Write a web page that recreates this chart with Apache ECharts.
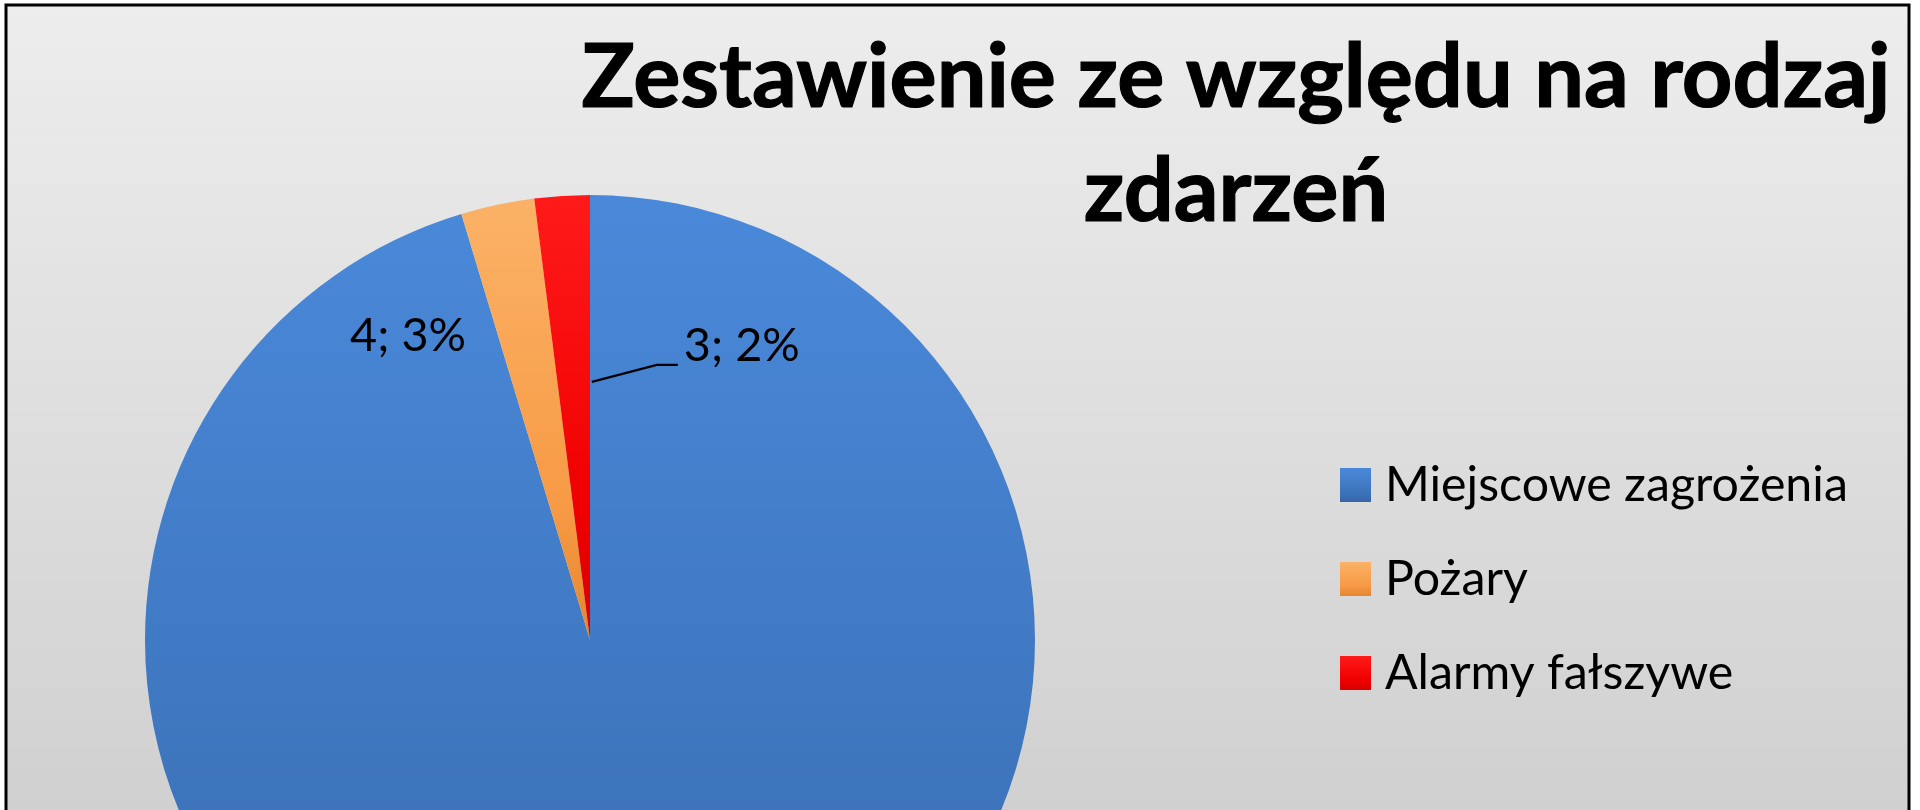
<!DOCTYPE html>
<html><head><meta charset="utf-8">
<script src="https://cdn.jsdelivr.net/npm/echarts@6/dist/echarts.min.js"></script>
<style>html,body{margin:0;padding:0;background:#fff;}#c{width:1920px;height:810px;}</style>
</head><body><div id="c"></div>
<script>
// ---- data ----
const categories = ['Miejscowe zagrożenia', 'Pożary', 'Alarmy fałszywe'];
const values = [143, 4, 3];
const titleText = 'Zestawienie ze względu na rodzaj\nzdarzeń';

// ---- layout constants ----
const CX = 590, CY = 640, R = 445;
const FONT = 'Lato';

function fit(text, weight, target) {
  const c = document.createElement('canvas').getContext('2d');
  c.font = weight + ' 100px ' + FONT;
  return 100 * target / c.measureText(text).width;
}
const titleSize = fit('Zestawienie ze względu na rodzaj', 'bold', 1309);
const legendSize = fit('Miejscowe zagrożenia', 'normal', 463);
const labelSize = fit('4; 3%', 'normal', 116);

function polar(aDeg, r) {
  const a = aDeg * Math.PI / 180;
  return [CX + r * Math.sin(a), CY - r * Math.cos(a)];
}

// leader line geometry for the "Alarmy fałszywe" label (relative to pie)
const leadStart = polar(0.4, 0.58 * R);
const leadMid = [leadStart[0] + 65, leadStart[1] - 17];
const leadEnd = [leadMid[0] + 21, leadMid[1]];

const lg = (c0, c1, c2) => ({
  type: 'linear', x: 0, y: 0, x2: 0, y2: 1,
  colorStops: [{offset: 0, color: c0}, {offset: 0.7, color: c1}, {offset: 1, color: c2}]
});
const colors = [
  lg('#4A89DA', '#3D74BB', '#3566A8'),
  lg('#FBB266', '#F79A45', '#E5862F'),
  lg('#FF1A1A', '#F00000', '#D80000')
];

const chart = echarts.init(document.getElementById('c'));
chart.setOption({
  backgroundColor: '#ffffff',
  animation: false,
  graphic: [
    {
      type: 'rect', z: -10, silent: true,
      shape: {x: 6, y: 5, width: 1903, height: 900},
      style: {
        fill: {type: 'linear', x: 0, y: 0, x2: 0, y2: 1,
          colorStops: [{offset: 0, color: '#EDEDED'}, {offset: 0.9, color: '#D0D0D0'}]},
        stroke: '#000', lineWidth: 3
      }
    },
    {
      type: 'polyline', z: 100, silent: true,
      shape: {points: [leadStart, leadMid, leadEnd]},
      style: {stroke: '#000', lineWidth: 2.2, fill: null}
    }
  ],
  title: {
    text: titleText,
    left: 1236, top: 22, padding: 0,
    textAlign: 'center', textVerticalAlign: 'top',
    textStyle: {fontFamily: FONT, fontWeight: 'bold', fontSize: titleSize, lineHeight: 114, color: '#000',
      textBorderColor: '#000', textBorderWidth: 1.2}
  },
  legend: {
    orient: 'vertical', left: 1340, top: 461, padding: 0,
    itemWidth: 31, itemHeight: 34, itemGap: 46, icon: 'rect',
    data: categories,
    textStyle: {fontFamily: FONT, fontSize: legendSize, color: '#000', padding: [0, 0, 0, 9]}
  },
  series: [{
    type: 'pie',
    center: [CX, CY],
    radius: R,
    startAngle: 90,
    clockwise: true,
    avoidLabelOverlap: false,
    percentPrecision: 0,
    label: {
      formatter: '{c}; {d}%',
      fontFamily: FONT, fontSize: labelSize, color: '#000'
    },
    labelLine: {show: false},
    data: categories.map((name, i) => ({
      name, value: values[i],
      itemStyle: {color: colors[i]},
      label: {position: i === 0 ? 'inside' : 'outside'}
    })),
    labelLayout: function (p) {
      if (p.dataIndex === 1) {
        const pt = polar(-30.9, 0.796 * R);
        return {x: pt[0], y: pt[1], align: 'center', verticalAlign: 'middle'};
      }
      if (p.dataIndex === 2) {
        return {x: leadEnd[0] + 6, y: leadEnd[1] - 19, align: 'left', verticalAlign: 'middle'};
      }
    }
  }]
});
</script></body></html>
